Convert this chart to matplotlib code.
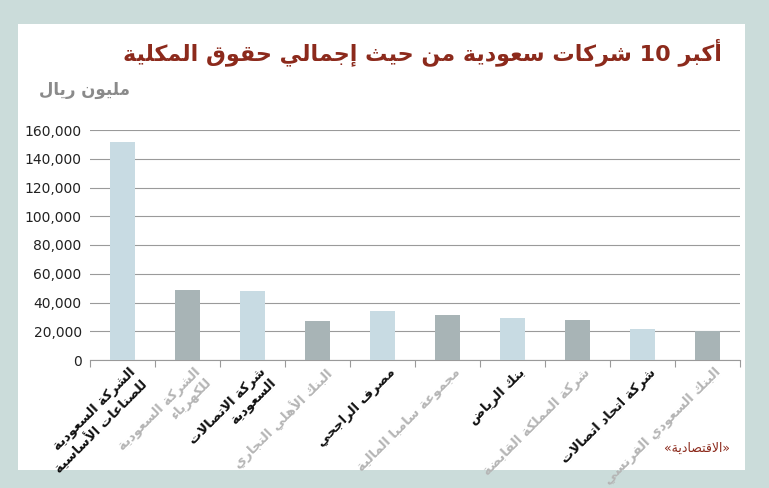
import matplotlib
matplotlib.use("Agg")
import matplotlib.pyplot as plt
from matplotlib.patches import Rectangle
from matplotlib.ticker import FuncFormatter

companies = ["الشركة السعودية\nللصناعات الأساسية", "الشركة السعودية\nللكهرباء",
             "شركة الاتصالات\nالسعودية", "البنك الأهلي التجاري", "مصرف الراجحي",
             "مجموعة سامبا المالية", "بنك الرياض", "شركة المملكة القابضة",
             "شركة اتحاد اتصالات", "البنك السعودي الفرنسي"]
values = [152000, 49000, 48000, 27000, 34000, 31000, 29500, 28000, 21500, 20500]
title = "أكبر 10 شركات سعودية من حيث إجمالي حقوق المكلية"
unit = "مليون ريال"
source = "«الاقتصادية»"

# ---- minimal Arabic shaping (presentation forms B) ----
F4 = {'ئ':0xFE89,'ب':0xFE8F,'ت':0xFE95,'ث':0xFE99,'ج':0xFE9D,'ح':0xFEA1,'خ':0xFEA5,
      'س':0xFEB1,'ش':0xFEB5,'ص':0xFEB9,'ض':0xFEBD,'ط':0xFEC1,'ظ':0xFEC5,'ع':0xFEC9,
      'غ':0xFECD,'ف':0xFED1,'ق':0xFED5,'ك':0xFED9,'ل':0xFEDD,'م':0xFEE1,'ن':0xFEE5,
      'ه':0xFEE9,'ي':0xFEF1}
F2 = {'آ':0xFE81,'أ':0xFE83,'ؤ':0xFE85,'إ':0xFE87,'ا':0xFE8D,'ة':0xFE93,'د':0xFEA9,
      'ذ':0xFEAB,'ر':0xFEAD,'ز':0xFEAF,'و':0xFEED,'ى':0xFEEF}
LA = {'آ':0xFEF5,'أ':0xFEF7,'إ':0xFEF9,'ا':0xFEFB}

def is_ar(c):
    return c in F4 or c in F2 or c == 'ء'

def shape_word(w):
    units = []
    i = 0
    while i < len(w):
        c = w[i]
        if c == 'ل' and i + 1 < len(w) and w[i+1] in LA:
            units.append(('LA', w[i+1])); i += 2
        else:
            units.append(('C', c)); i += 1
    out = []
    for k, (t, c) in enumerate(units):
        prev = units[k-1] if k > 0 else None
        nxt = units[k+1] if k + 1 < len(units) else None
        pj = prev is not None and prev[0] == 'C' and prev[1] in F4
        if t == 'LA':
            out.append(chr(LA[c] + (1 if pj else 0))); continue
        nj = nxt is not None and (nxt[0] == 'LA' or is_ar(nxt[1]))
        if c in F4:
            b = F4[c]
            if pj and nj: out.append(chr(b+3))
            elif pj: out.append(chr(b+1))
            elif nj: out.append(chr(b+2))
            else: out.append(chr(b))
        elif c in F2:
            out.append(chr(F2[c] + (1 if pj else 0)))
        else:
            out.append(c)
    return ''.join(out)

def ar(text):
    lines = []
    for line in text.split('\n'):
        words = line.split(' ')
        sw = []
        for w in words:
            if any(is_ar(c) for c in w):
                s = shape_word(w)[::-1]
                s = s.replace('«', '\0').replace('»', '«').replace('\0', '»')
                sw.append(s)
            else:
                sw.append(w)
        lines.append(' '.join(sw[::-1]))
    return '\n'.join(lines)

plt.rcParams['font.family'] = ['DejaVu Sans']
W, H = 769, 488
fig = plt.figure(figsize=(W/100, H/100), dpi=100)
fig.patch.set_facecolor('#cbdcda')
fig.patches.append(Rectangle((18/W, 18/H), 727/W, 446/H, transform=fig.transFigure,
                             facecolor='white', edgecolor='none', zorder=-10))

ax = fig.add_axes([90/W, (H-360)/H, 650/W, 230/H])
ax.set_facecolor('none')
x = range(len(values))
colors = ['#c8dbe3' if i % 2 == 0 else '#a8b4b6' for i in x]
ax.bar(x, values, width=0.38, color=colors, zorder=3)
ax.set_xlim(-0.5, len(values) - 0.5)
ax.set_ylim(0, 160000)
ax.set_yticks(range(0, 160001, 20000))
ax.yaxis.set_major_formatter(FuncFormatter(lambda v, p: f"{int(v):,}"))
ax.grid(axis='y', color='#9a9a9a', linewidth=0.8, zorder=0)
for s in ['top', 'right', 'left']:
    ax.spines[s].set_visible(False)
ax.spines['bottom'].set_color('#9a9a9a')
ax.tick_params(axis='y', length=0, labelsize=10, colors='#222222', pad=6)
ax.set_xticks([i + 0.5 for i in range(-1, len(values))], minor=False)
ax.set_xticklabels([])
ax.tick_params(axis='x', length=5, color='#9a9a9a', direction='out')
for i, name in enumerate(companies):
    col = '#111111' if i % 2 == 0 else '#b5b5b5'
    ax.text(i + 0.1, -4000, ar(name), rotation=45, rotation_mode='anchor',
            ha='right', va='top', multialignment='right', fontsize=9.5,
            fontweight='bold', color=col, transform=ax.transData)

fig.text(722/W, (H-52)/H, ar(title), ha='right', va='center', fontsize=16,
         fontweight='bold', color='#8c2a1c')
fig.text(130/W, (H-90)/H, ar(unit), ha='right', va='center', fontsize=12,
         fontweight='bold', color='#8a8a8a')
fig.text(730/W, (H-448)/H, ar(source), ha='right', va='center', fontsize=9,
         color='#8c2a1c')

fig.savefig('out.png', dpi=100, facecolor=fig.get_facecolor())
